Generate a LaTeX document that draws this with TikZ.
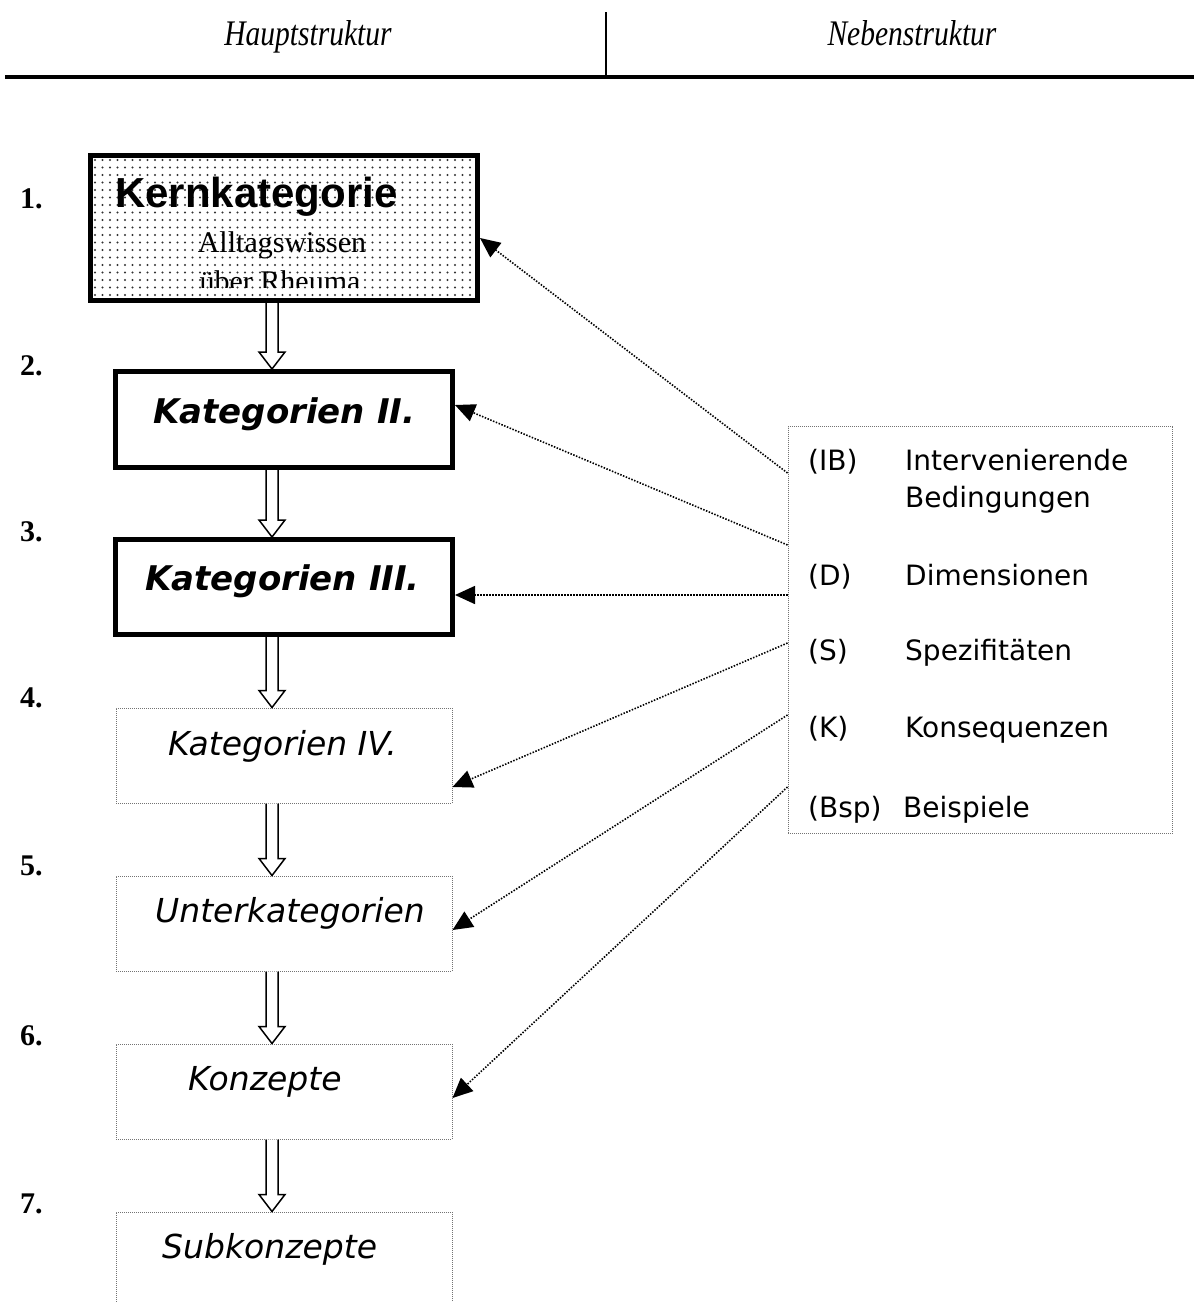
\documentclass[tikz,border=0pt]{standalone}
\usepackage{fontspec}
\setmainfont{Liberation Serif}
\newfontfamily\verd{DejaVu Sans}
\newfontfamily\arialf{Liberation Sans}
\usetikzlibrary{arrows.meta,calc}
\tikzset{
  thickbox/.style={draw,line width=5pt,minimum width=337pt,minimum height=96pt,inner sep=0pt},
  dotbox/.style={draw=black!55,line width=1pt,dash pattern=on 1pt off 1pt,minimum width=336pt,minimum height=95pt,inner sep=0pt},
  hollow/.style={draw=black,line width=1.5pt,fill=white,line join=miter},
  dotarrow/.style={line width=1.6pt,dash pattern=on 1.5pt off 1.5pt,-{Triangle[length=20pt,width=18pt]}},
  numlbl/.style={anchor=base west,inner sep=0pt,font=\fontsize{30}{32}\selectfont\bfseries},
  boxtxt/.style={anchor=base west,inner sep=0pt,font=\verd\fontsize{33}{36}\selectfont\itshape},
  boxtxtb/.style={anchor=base west,inner sep=0pt,font=\verd\fontsize{34}{36}\selectfont\bfseries\itshape},
  sidetxt/.style={anchor=base west,inner sep=0pt,font=\verd\fontsize{28}{32}\selectfont},
  headtxt/.style={anchor=base,inner sep=0pt,font=\fontsize{36}{38}\selectfont\itshape}
}
\newcommand\holarrow[2]{%
  \path (#1.south -| ax) coordinate (hA) (#2.north -| ax) coordinate (hB);
  \draw[hollow] ($(hA)+(-6,0)$) -- ($(hB)+(-6,-17)$) -- ($(hB)+(-13,-17)$) -- (hB)
     -- ($(hB)+(13,-17)$) -- ($(hB)+(6,-17)$) -- ($(hA)+(6,0)$);
}
\begin{document}
\begin{tikzpicture}[x=1pt,y=-1pt]
\useasboundingbox (0,0) rectangle (1194,1302);
\fill[white] (0,0) rectangle (1194,1302);
% header
\draw[line width=3.5pt] (5,77) -- (1194,77);
\draw[line width=1.3pt] (606,12) -- (606,77);
\node[headtxt] (h1) at (308,45) {\scalebox{0.82}[1]{Hauptstruktur}};
\node[headtxt] (h2) at (912,45) {\scalebox{0.82}[1]{Nebenstruktur}};
% dot pattern in box 1
\begin{scope}
  \clip (91,156) rectangle (478,301);
  \foreach \y in {160,167.5,...,300} {
    \foreach \x in {95,102.5,...,478} {
      \fill[black!80] (\x,\y) circle (1.05pt);
    }
  }
\end{scope}
\node[anchor=base west,inner sep=0pt,font=\arialf\fontsize{42}{46}\selectfont\bfseries] (kk) at (115,207) {Kernkategorie};
\node[anchor=base,inner sep=0pt,font=\fontsize{30}{34}\selectfont] (aw) at (282,252) {Alltagswissen};
\begin{scope}
  \clip (91,156) rectangle (478,287);
  \node[anchor=base,inner sep=0pt,font=\fontsize{30}{34}\selectfont] (ur) at (280,291) {über Rheuma};
\end{scope}
% boxes
\node[thickbox,minimum width=387pt,minimum height=145pt] (b1) at (284,228) {};
\node[thickbox] (b2) at (284,419.5) {};
\node[thickbox,minimum height=95pt] (b3) at (284,587) {};
\node[dotbox] (b4) at (284,755.5) {};
\node[dotbox] (b5) at (284,923.5) {};
\node[dotbox] (b6) at (284,1091.5) {};
\node[dotbox] (b7) at (284,1259.5) {};
% box texts
\node[boxtxtb] (k2) at (153,423) {Kategorien II.};
\node[boxtxtb] (k3) at (145,590) {Kategorien III.};
\node[boxtxt] (k4) at (168,755) {Kategorien IV.};
\node[boxtxt] (k5) at (155,922) {Unterkategorien};
\node[boxtxt] (k6) at (188,1090) {Konzepte};
\node[boxtxt] (k7) at (162,1258) {Subkonzepte};
% numbers
\node[numlbl] (n1) at (20,208) {1.};
\node[numlbl] (n2) at (20,375) {2.};
\node[numlbl] (n3) at (20,541) {3.};
\node[numlbl] (n4) at (20,707) {4.};
\node[numlbl] (n5) at (20,875) {5.};
\node[numlbl] (n6) at (20,1045) {6.};
\node[numlbl] (n7) at (20,1213) {7.};
% hollow arrows
\coordinate (ax) at (272,0);
\holarrow{b1}{b2}
\holarrow{b2}{b3}
\holarrow{b3}{b4}
\holarrow{b4}{b5}
\holarrow{b5}{b6}
\holarrow{b6}{b7}
% side box
\node[dotbox,minimum width=384pt,minimum height=407pt] (sb) at (980,630) {};
\node[sidetxt] (l1) at (808,470) {(IB)};
\node[sidetxt] (e1) at (905,470) {Intervenierende};
\node[sidetxt] (e1b) at (905,507) {Bedingungen};
\node[sidetxt] (l2) at (808,585) {(D)};
\node[sidetxt] (e2) at (905,585) {Dimensionen};
\node[sidetxt] (l3) at (808,660) {(S)};
\node[sidetxt] (e3) at (905,660) {Spezifitäten};
\node[sidetxt] (l4) at (808,737) {(K)};
\node[sidetxt] (e4) at (905,737) {Konsequenzen};
\node[sidetxt] (l5) at (808,817) {(Bsp)};
\node[sidetxt] (e5) at (903,817) {Beispiele};
% dotted arrows
\coordinate (s1) at (sb.west |- 0,473);
\coordinate (s2) at (sb.west |- 0,545);
\coordinate (s3) at (sb.west |- 0,595);
\coordinate (s4) at (sb.west |- 0,643);
\coordinate (s5) at (sb.west |- 0,715);
\coordinate (s6) at (sb.west |- 0,787);
\coordinate (t1) at (b1.east |- 0,238);
\coordinate (t2) at (b2.east |- 0,405);
\coordinate (t3) at (b3.east |- 0,595);
\coordinate (t4) at (b4.east |- 0,787);
\coordinate (t5) at (b5.east |- 0,930);
\coordinate (t6) at (b6.east |- 0,1098);
\draw[dotarrow] (s1) -- (t1);
\draw[dotarrow] (s2) -- (t2);
\draw[dotarrow] (s3) -- (t3);
\draw[dotarrow] (s4) -- (t4);
\draw[dotarrow] (s5) -- (t5);
\draw[dotarrow] (s6) -- (t6);
\end{tikzpicture}
\end{document}
